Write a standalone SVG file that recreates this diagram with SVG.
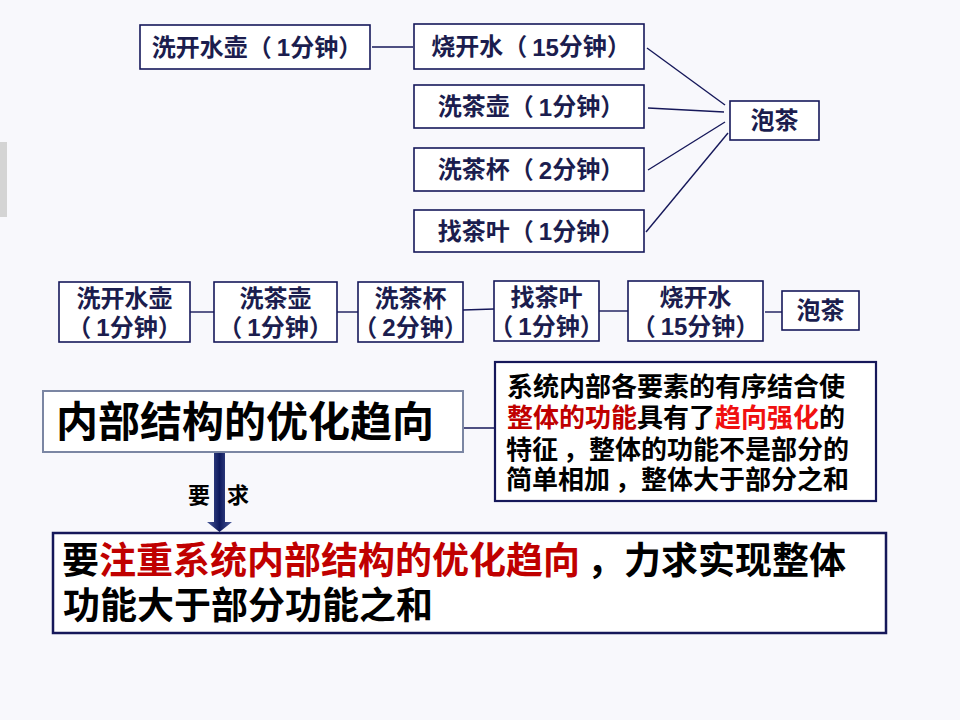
<svg xmlns="http://www.w3.org/2000/svg" width="960" height="720" viewBox="0 0 960 720">
<defs>
<style>
.bx{fill:#ffffff;stroke:#16185a;stroke-width:1.6}
.t{font-family:"Liberation Sans","Noto Sans CJK SC",sans-serif;font-weight:bold;dominant-baseline:central}
.nv{fill:#1b1d4e;font-size:24px;text-anchor:middle}
.bk{fill:#000000}
.ln{stroke:#16185a;stroke-width:1.4;fill:none}
.dr{fill:#c00000}
.br{fill:#f01010}
</style>
<linearGradient id="ag" x1="0" y1="0" x2="1" y2="0">
<stop offset="0" stop-color="#4a5a9a"/>
<stop offset="0.5" stop-color="#0f1a5e"/>
<stop offset="1" stop-color="#4a5a9a"/>
</linearGradient>
</defs>
<rect x="0" y="0" width="960" height="720" fill="#f8f8fc"/>
<rect x="0" y="142" width="7" height="75" fill="#d4d4d4"/>

<g id="connectors">
<line class="ln" x1="372" y1="47" x2="413" y2="47"/>
<line class="ln" x1="647" y1="48" x2="725" y2="105"/>
<line class="ln" x1="648" y1="108" x2="724" y2="112"/>
<line class="ln" x1="648" y1="170" x2="725" y2="122"/>
<line class="ln" x1="646" y1="232" x2="728" y2="133"/>
<line class="ln" x1="190" y1="312" x2="214" y2="312"/>
<line class="ln" x1="337" y1="312" x2="358" y2="312"/>
<line class="ln" x1="463" y1="310" x2="494" y2="309"/>
<line class="ln" x1="599" y1="311" x2="628" y2="311"/>
<line class="ln" x1="765" y1="312" x2="782" y2="312"/>
<line class="ln" x1="461" y1="428" x2="495" y2="428"/>
<polygon points="214,452 225,452 225,522 232,522 219.5,532 207,522 214,522" fill="url(#ag)"/>
<text class="t bk" x="188" y="495" font-size="22">要</text>
<text class="t bk" x="227" y="495" font-size="22">求</text>
</g>

<g id="top-a"><rect class="bx" x="140" y="25" width="230" height="44"/><text class="t nv" x="257" y="47">洗开水壶（<tspan dx="5">1</tspan>分钟）</text></g>
<g id="top-b"><rect class="bx" x="414" y="24" width="230" height="45"/><text class="t nv" x="531" y="46.5">烧开水（<tspan dx="5">15</tspan>分钟）</text></g>
<g id="top-c"><rect class="bx" x="414" y="85" width="230" height="43"/><text class="t nv" x="531" y="106.5">洗茶壶（<tspan dx="5">1</tspan>分钟）</text></g>
<g id="top-d"><rect class="bx" x="414" y="148" width="230" height="43"/><text class="t nv" x="531" y="169.5">洗茶杯（<tspan dx="5">2</tspan>分钟）</text></g>
<g id="top-e"><rect class="bx" x="414" y="210" width="230" height="42"/><text class="t nv" x="531" y="231">找茶叶（<tspan dx="5">1</tspan>分钟）</text></g>
<g id="top-tea"><rect class="bx" x="730" y="101" width="89" height="39"/><text class="t nv" x="774.5" y="120.5" fill="#000">泡茶</text></g>

<g id="mid-1"><rect class="bx" x="59" y="282" width="131" height="60"/><text class="t nv" x="124.5" y="298">洗开水壶</text><text class="t nv" x="124.5" y="327">（<tspan dx="5">1</tspan>分钟）</text></g>
<g id="mid-2"><rect class="bx" x="214" y="282" width="123" height="60"/><text class="t nv" x="275.5" y="298">洗茶壶</text><text class="t nv" x="275.5" y="327">（<tspan dx="5">1</tspan>分钟）</text></g>
<g id="mid-3"><rect class="bx" x="358" y="282" width="105" height="60"/><text class="t nv" x="410.5" y="298">洗茶杯</text><text class="t nv" x="410.5" y="327">（<tspan dx="5">2</tspan>分钟）</text></g>
<g id="mid-4"><rect class="bx" x="494" y="281" width="105" height="60"/><text class="t nv" x="546.5" y="297">找茶叶</text><text class="t nv" x="546.5" y="326">（<tspan dx="5">1</tspan>分钟）</text></g>
<g id="mid-5"><rect class="bx" x="628" y="281" width="135" height="60"/><text class="t nv" x="695.5" y="297">烧开水</text><text class="t nv" x="695.5" y="326">（<tspan dx="5">15</tspan>分钟）</text></g>
<g id="mid-tea"><rect class="bx" x="782" y="291" width="77" height="39"/><text class="t nv" x="820.5" y="310.5" fill="#000">泡茶</text></g>

<g id="main"><rect x="43" y="391" width="420" height="61" fill="#ffffff" stroke="#7b86a3" stroke-width="2"/><text class="t bk" x="56" y="422" font-size="42">内部结构的优化趋向</text></g>

<g id="explain"><rect x="495" y="362" width="381" height="139" fill="#ffffff" stroke="#16185a" stroke-width="2.2"/>
<text class="t bk" x="507" y="387" font-size="26">系统内部各要素的有序结合使</text>
<text class="t bk" x="507" y="418" font-size="26"><tspan class="dr">整体的功能</tspan>具有了<tspan class="br">趋向强化</tspan>的</text>
<text class="t bk" x="506" y="450" font-size="26">特征<tspan dx="5">，</tspan>整体的功能不是部分的</text>
<text class="t bk" x="506" y="480" font-size="26">简单相加<tspan dx="5">，</tspan>整体大于部分之和</text>
</g>

<g id="conclusion"><rect x="53" y="533" width="833" height="100" fill="#ffffff" stroke="#16185a" stroke-width="2.5"/>
<text class="t bk" x="62" y="561" font-size="37">要<tspan class="dr">注重系统内部结构的优化趋向</tspan><tspan dx="7">，</tspan>力求实现整体</text>
<text class="t bk" x="63" y="606" font-size="37">功能大于部分功能之和</text>
</g>
</svg>
